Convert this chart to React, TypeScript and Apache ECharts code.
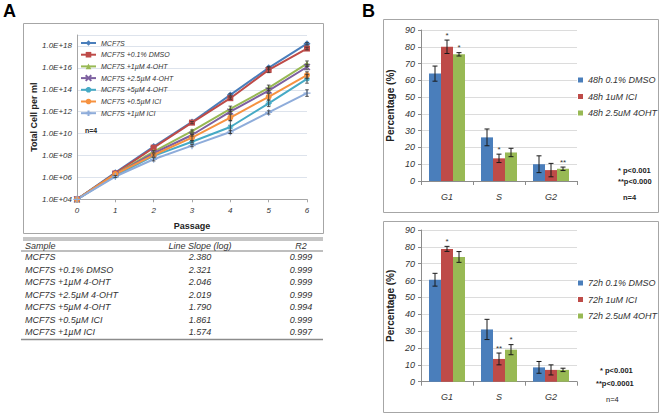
import React, { useEffect, useRef } from 'react';
import * as echarts from 'echarts';

// ---------- Panel A data ----------
const passages = ['0', '1', '2', '3', '4', '5', '6'];
const lineNames = [
  'MCF7S',
  'MCF7S +0.1% DMSO',
  'MCF7S +1µM 4-OHT',
  'MCF7S +2.5µM 4-OHT',
  'MCF7S +5µM 4-OHT',
  'MCF7S +0.5µM ICI',
  'MCF7S +1µM ICI',
];
const cellsMCF7S = [1e4, 2.7e6, 6.5e8, 1.15e11, 3.4e13, 1.0e16, 1.6e18];
const cellsDMSO = [1e4, 2.3e6, 5.2e8, 1.0e11, 1.7e13, 6.5e15, 5.8e17];
const cellsOHT1 = [1e4, 2.0e6, 2.2e8, 1.7e10, 1.8e12, 1.5e14, 2.4e16];
const cellsOHT25 = [1e4, 1.9e6, 1.6e8, 7.4e9, 1.0e12, 8.5e13, 1.2e16];
const cellsOHT5 = [1e4, 1.45e6, 9.1e7, 1.8e9, 4.0e10, 5.8e12, 1.0e15];
const cellsICI05 = [1e4, 2.0e6, 1.1e8, 4.3e9, 2.9e11, 2.3e13, 2.2e15];
const cellsICI1 = [1e4, 1.2e6, 4.5e7, 7.9e8, 1.4e10, 8.5e11, 5.0e13];
// error bar half-widths in decades (log10)
const errMCF7S = [0, 0, 0, 0, 0.1, 0.12, 0.1];
const errDMSO = [0, 0, 0, 0.1, 0.1, 0.25, 0.12];
const errOHT1 = [0, 0, 0.1, 0.1, 0.25, 0.25, 0.25];
const errOHT25 = [0, 0, 0, 0.1, 0.2, 0.2, 0.25];
const errOHT5 = [0, 0, 0, 0.1, 0.6, 0.3, 0.4];
const errICI05 = [0, 0, 0.1, 0.3, 0.3, 0.3, 0.3];
const errICI1 = [0, 0.1, 0.15, 0.1, 0.15, 0.15, 0.3];

// table
const tableHeader = ['Sample', 'Line Slope (log)', 'R2'];
const tableSlopes = ['2.380', '2.321', '2.046', '2.019', '1.790', '1.861', '1.574'];
const tableR2 = ['0.999', '0.999', '0.999', '0.999', '0.994', '0.999', '0.997'];

// ---------- Panel B data ----------
const phases = ['G1', 'S', 'G2'];
const names48 = ['48h 0.1% DMSO', '48h 1uM ICI', '48h 2.5uM 4OHT'];
const dmso48 = [64, 26, 10];
const ici48 = [80, 13.5, 6.5];
const oht48 = [75.5, 17, 7.3];
const dmso48Err = [4.5, 5, 5];
const ici48Err = [4, 2.5, 4];
const oht48Err = [1, 2.5, 1];
const dmso48Sig = ['', '', ''];
const ici48Sig = ['*', '*', ''];
const oht48Sig = ['*', '', '**'];

const names72 = ['72h 0.1% DMSO', '72h 1uM ICI', '72h 2.5uM 4OHT'];
const dmso72 = [60.5, 31, 8.5];
const ici72 = [78.8, 13.5, 7];
const oht72 = [74, 19, 7];
const dmso72Err = [3.8, 6, 3.5];
const ici72Err = [1.5, 3.5, 3];
const oht72Err = [3.2, 3, 1];
const dmso72Sig = ['', '', ''];
const ici72Sig = ['*', '**', ''];
const oht72Sig = ['', '*', ''];

const FONT = 'Liberation Sans, Arial, sans-serif';
const lineColors = ['#4A7EBB', '#BE4B48', '#98B954', '#7D60A0', '#46AAC5', '#F69240', '#8EACDA'];
const lineSymbols = [
  'diamond',
  'rect',
  'triangle',
  'path://M0,0L10,10M10,0L0,10',
  'path://M5,0L5,10M0,5L10,5M1.5,1.5L8.5,8.5M8.5,1.5L1.5,8.5',
  'circle',
  'path://M5,0L5,10M0,5L10,5',
];
const lineSymbolSizes = [7, 6, 6, 6, 6, 6, 7];
const strokeSymbols = [false, false, false, true, true, false, true];
const barColors = ['#4A7EBB', '#BE4B48', '#98B954'];
const BAR_W = 12;

function barErrSeries(g: number, means: number[][], errs: number[][], sigs: string[][]) {
  const data: number[][] = [];
  const texts: string[] = [];
  means.forEach((arr, k) =>
    arr.forEach((m, c) => {
      data.push([c, m, errs[k][c], k]);
      texts.push(sigs[k][c]);
    })
  );
  return {
    type: 'custom',
    xAxisIndex: g,
    yAxisIndex: g,
    data,
    z: 20,
    silent: true,
    renderItem: (params: any, api: any) => {
      const c = api.value(0);
      const m = api.value(1);
      const e = api.value(2);
      const k = api.value(3);
      const top = api.coord([c, m + e]);
      const bot = api.coord([c, m - e]);
      const x = top[0] + (k - 1) * BAR_W;
      const st = { stroke: '#1a1a1a', lineWidth: 1 };
      const children: any[] = [
        { type: 'line', shape: { x1: x, y1: top[1], x2: x, y2: bot[1] }, style: st },
        { type: 'line', shape: { x1: x - 2.5, y1: top[1], x2: x + 2.5, y2: top[1] }, style: st },
        { type: 'line', shape: { x1: x - 2.5, y1: bot[1], x2: x + 2.5, y2: bot[1] }, style: st },
      ];
      const t = texts[params.dataIndex];
      if (t) {
        children.push({
          type: 'text',
          x,
          y: top[1] - 1,
          style: { text: t, align: 'center', verticalAlign: 'bottom', font: `8px ${FONT}`, fill: '#333' },
        });
      }
      return { type: 'group', children };
    },
  };
}

export default function App() {
  const ref = useRef<HTMLDivElement>(null);
  useEffect(() => {
    const chart = echarts.init(ref.current!, null, { renderer: 'svg' });
    const lineData = [cellsMCF7S, cellsDMSO, cellsOHT1, cellsOHT25, cellsOHT5, cellsICI05, cellsICI1];
    const lineErr = [errMCF7S, errDMSO, errOHT1, errOHT25, errOHT5, errICI05, errICI1];

    const errA: number[][] = [];
    lineErr.forEach((arr, s) =>
      arr.forEach((e, i) => {
        if (e > 0) errA.push([i, lineData[s][i], e]);
      })
    );

    const lineSeries = lineNames.map((name, i) => ({
      type: 'line',
      name,
      xAxisIndex: 0,
      yAxisIndex: 0,
      data: lineData[i],
      symbol: lineSymbols[i],
      symbolSize: lineSymbolSizes[i],
      showSymbol: true,
      lineStyle: { color: lineColors[i], width: 2 },
      itemStyle: {
        color: lineColors[i],
        borderColor: lineColors[i],
        borderWidth: strokeSymbols[i] ? 1.2 : 0,
      },
      z: 3,
    }));

    const axisGray = '#8c8c8c';
    const bAxes = (g: number) => ({
      x: {
        gridIndex: g,
        type: 'category',
        data: phases,
        axisLine: { lineStyle: { color: axisGray } },
        axisTick: { show: true, length: 4, lineStyle: { color: axisGray } },
        axisLabel: { fontStyle: 'italic', fontSize: 9, color: '#333', margin: 11, fontFamily: FONT },
      },
      y: {
        gridIndex: g,
        type: 'value',
        min: 0,
        max: 90,
        interval: 10,
        axisLine: { show: true, lineStyle: { color: axisGray } },
        axisTick: { show: true, length: 3, lineStyle: { color: axisGray } },
        splitLine: { show: true, lineStyle: { color: '#dcdcdc' } },
        axisLabel: { fontStyle: 'italic', fontSize: 9, color: '#333', margin: 6, fontFamily: FONT },
        name: 'Percentage (%)',
        nameLocation: 'middle',
        nameGap: 26,
        nameTextStyle: { fontWeight: 'bold', fontSize: 10, color: '#222', fontFamily: FONT },
      },
    });
    const b1 = bAxes(1);
    const b2 = bAxes(2);

    const bars = (g: number, names: string[], vals: number[][]) =>
      names.map((name, k) => ({
        type: 'bar',
        name,
        xAxisIndex: g,
        yAxisIndex: g,
        data: vals[k],
        barWidth: BAR_W,
        barGap: '0%',
        itemStyle: { color: barColors[k] },
        z: 2,
      }));

    const graphics: any[] = [];
    const txt = (text: string, x: number, y: number, font: string, align = 'left', fill = '#222') =>
      graphics.push({ type: 'text', x, y, silent: true, style: { text, font, fill, align, verticalAlign: 'middle' } });
    const ln = (x1: number, y1: number, x2: number, y2: number, w = 1, c = '#7f7f7f') =>
      graphics.push({ type: 'line', silent: true, shape: { x1, y1, x2, y2 }, style: { stroke: c, lineWidth: w } });
    const frame = (x: number, y: number, w: number, h: number) =>
      graphics.push({ type: 'rect', silent: true, shape: { x, y, width: w, height: h }, style: { fill: 'none', stroke: '#a6a6a6', lineWidth: 1 }, z: -1 });

    frame(23.5, 23.5, 300, 210);
    frame(383.5, 19.5, 275, 193);
    frame(383.5, 221.5, 275, 191);
    txt('A', 3, 11, `bold 18px ${FONT}`, 'left', '#000');
    txt('B', 362, 11, `bold 18px ${FONT}`, 'left', '#000');
    txt('n=4', 85, 130, `bold 7px ${FONT}`);
    txt('* p<0.001', 618, 170.5, `bold 7.5px ${FONT}`);
    txt('**p<0.000', 618, 181, `bold 7.5px ${FONT}`);
    txt('n=4', 623, 197.5, `bold 7.5px ${FONT}`);
    txt('* p<0.001', 600, 370.5, `bold 7.5px ${FONT}`);
    txt('**p<0.0001', 596, 383, `bold 7.5px ${FONT}`);
    txt('n=4', 606, 399.5, `7.5px ${FONT}`);

    // table
    ln(23, 238, 323, 238, 1, '#8c8c8c');
    ln(23, 240, 323, 240, 1, '#8c8c8c');
    ln(21, 251, 323, 251, 1.2, '#7f7f7f');
    ln(21, 339.5, 323, 339.5, 1.5, '#8c8c8c');
    const tf = `italic 9px ${FONT}`;
    txt(tableHeader[0], 25, 245.5, tf, 'left', '#333');
    txt(tableHeader[1], 200, 245.5, tf, 'center', '#333');
    txt(tableHeader[2], 301, 245.5, tf, 'center', '#333');
    lineNames.forEach((n, i) => {
      const y = 257.3 + i * 12.5;
      txt(n, 25, y, tf, 'left', '#333');
      txt(tableSlopes[i], 200, y, tf, 'center', '#333');
      txt(tableR2[i], 301, y, tf, 'center', '#333');
    });

    const option: any = {
      animation: false,
      backgroundColor: '#fff',
      textStyle: { fontFamily: FONT },
      grid: [
        { left: 77, top: 35, width: 230, height: 164.3, outerBoundsMode: 'none' },
        { left: 421, top: 30, width: 156, height: 151, outerBoundsMode: 'none' },
        { left: 421, top: 230, width: 156, height: 151.7, outerBoundsMode: 'none' },
      ],
      legend: [
        {
          data: lineNames,
          orient: 'vertical',
          left: 75,
          top: 33,
          itemWidth: 15,
          itemHeight: 7,
          itemGap: 1.7,
          selectedMode: false,
          textStyle: { fontSize: 7, fontStyle: 'italic', color: '#333', lineHeight: 10, fontFamily: FONT },
        },
        {
          data: names48,
          orient: 'vertical',
          left: 573,
          top: 69,
          icon: 'rect',
          itemWidth: 5,
          itemHeight: 5,
          itemGap: 4.5,
          selectedMode: false,
          textStyle: { fontSize: 9, fontStyle: 'italic', color: '#333', lineHeight: 12, fontFamily: FONT },
        },
        {
          data: names72,
          orient: 'vertical',
          left: 573,
          top: 272,
          icon: 'rect',
          itemWidth: 5,
          itemHeight: 5,
          itemGap: 4.5,
          selectedMode: false,
          textStyle: { fontSize: 9, fontStyle: 'italic', color: '#333', lineHeight: 12, fontFamily: FONT },
        },
      ],
      xAxis: [
        {
          gridIndex: 0,
          type: 'category',
          data: passages,
          boundaryGap: false,
          axisLine: { lineStyle: { color: '#a6a6a6' } },
          axisTick: { show: true, length: 3, lineStyle: { color: '#a6a6a6' } },
          axisLabel: { fontStyle: 'italic', fontSize: 8, color: '#333', margin: 7, fontFamily: FONT },
          splitLine: { show: false },
          name: 'Passage',
          nameLocation: 'middle',
          nameGap: 22,
          nameTextStyle: { fontWeight: 'bold', fontSize: 9, color: '#222', fontFamily: FONT },
        },
        b1.x,
        b2.x,
      ],
      yAxis: [
        {
          gridIndex: 0,
          type: 'log',
          logBase: 100,
          min: 1e4,
          max: 1e19,
          splitNumber: 8,
          axisLine: { show: true, lineStyle: { color: '#a6a6a6' } },
          axisTick: { show: false },
          splitLine: { show: true, lineStyle: { color: '#dde3ec' } },
          axisLabel: {
            fontStyle: 'italic',
            fontSize: 8,
            color: '#333',
            margin: 5,
            fontFamily: FONT,
            formatter: (v: number) => {
              const e = Math.round(Math.log10(v));
              if (e % 2 !== 0 || e > 18) return '';
              return '1.0E+' + (e < 10 ? '0' : '') + e;
            },
          },
          name: 'Total Cell per ml',
          nameLocation: 'middle',
          nameGap: 39,
          nameTextStyle: { fontWeight: 'bold', fontSize: 9, color: '#222', fontFamily: FONT },
        },
        b1.y,
        b2.y,
      ],
      series: [
        ...lineSeries,
        {
          type: 'custom',
          xAxisIndex: 0,
          yAxisIndex: 0,
          data: errA,
          z: 5,
          silent: true,
          renderItem: (params: any, api: any) => {
            const x = api.value(0);
            const v = api.value(1);
            const e = api.value(2);
            const k = Math.pow(10, e);
            const top = api.coord([x, v * k]);
            const bot = api.coord([x, v / k]);
            const st = { stroke: '#333', lineWidth: 0.8 };
            return {
              type: 'group',
              children: [
                { type: 'line', shape: { x1: top[0], y1: top[1], x2: bot[0], y2: bot[1] }, style: st },
                { type: 'line', shape: { x1: top[0] - 1.8, y1: top[1], x2: top[0] + 1.8, y2: top[1] }, style: st },
                { type: 'line', shape: { x1: bot[0] - 1.8, y1: bot[1], x2: bot[0] + 1.8, y2: bot[1] }, style: st },
              ],
            };
          },
        },
        ...bars(1, names48, [dmso48, ici48, oht48]),
        barErrSeries(1, [dmso48, ici48, oht48], [dmso48Err, ici48Err, oht48Err], [dmso48Sig, ici48Sig, oht48Sig]),
        ...bars(2, names72, [dmso72, ici72, oht72]),
        barErrSeries(2, [dmso72, ici72, oht72], [dmso72Err, ici72Err, oht72Err], [dmso72Sig, ici72Sig, oht72Sig]),
      ],
      graphic: graphics,
    };
    chart.setOption(option);
    return () => chart.dispose();
  }, []);
  return (
    <div
      ref={ref}
      style={{ position: 'fixed', left: 0, top: 0, width: 661, height: 415, background: '#fff' }}
    />
  );
}
